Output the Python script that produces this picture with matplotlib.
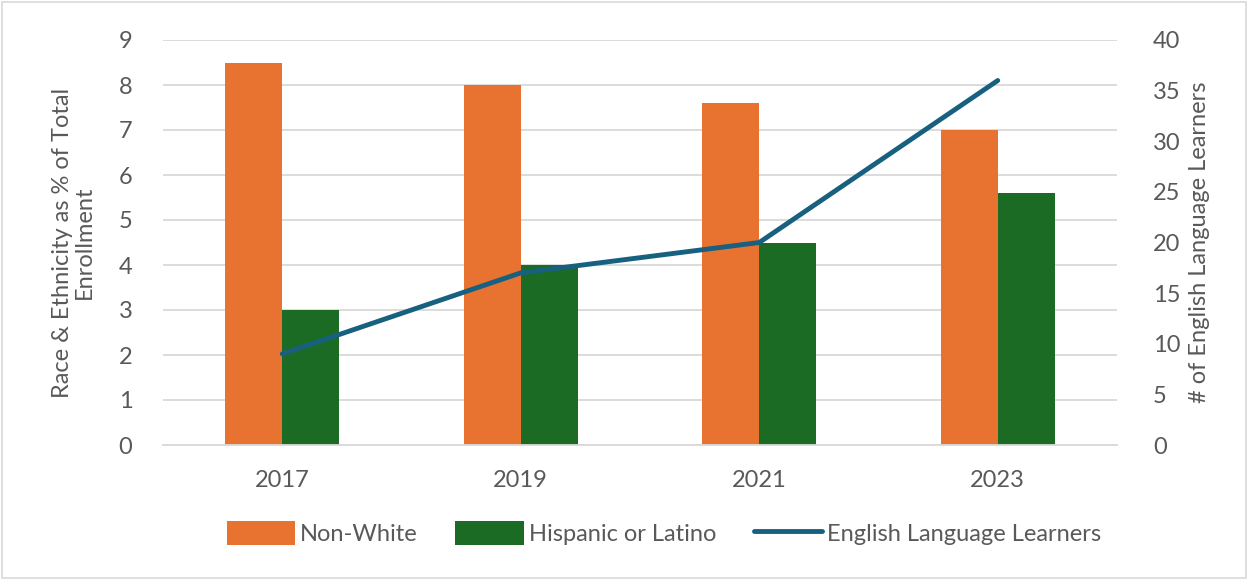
import matplotlib
matplotlib.use("Agg")
import matplotlib.pyplot as plt
import numpy as np
from matplotlib.patches import Rectangle

years = ["2017", "2019", "2021", "2023"]
non_white = [8.5, 8.0, 7.6, 7.0]
hispanic = [3.0, 4.0, 4.5, 5.6]
ell = [9, 17, 20, 36]

orange = "#E8722F"
green = "#1B6B24"
blue = "#17607F"
txt = "#595959"
grid = "#D9D9D9"
fs = 17

plt.rcParams['font.family'] = ['Lato', 'DejaVu Sans']

fig = plt.figure(figsize=(12.48, 5.8), dpi=100)
ax = fig.add_axes([163/1248, 1-445/580, (1117-163)/1248, (445-40)/580])
x = np.arange(len(years))
w = 0.24
ax.bar(x - w/2, non_white, w, color=orange, label="Non-White", zorder=2)
ax.bar(x + w/2, hispanic, w, color=green, label="Hispanic or Latino", zorder=2)
ax.set_ylim(0, 9)
ax.set_yticks(range(0, 10))
ax.set_xlim(-0.5, 3.5)
ax.set_xticks(x)
ax.set_xticklabels(years)
ax.yaxis.grid(True, color=grid, linewidth=1.3, zorder=0)
ax.set_axisbelow(True)
for s in ax.spines.values():
    s.set_visible(False)
ax.spines['bottom'].set_visible(True)
ax.spines['bottom'].set_color(grid)
ax.spines['bottom'].set_linewidth(1.3)
ax.tick_params(axis='both', length=0, labelsize=fs, colors=txt)
ax.tick_params(axis='x', pad=18)
ax.tick_params(axis='y', pad=22)
ax.set_ylabel("Race & Ethnicity as % of Total\nEnrollment", fontsize=fs, color=txt, labelpad=17, linespacing=1.05)

ax2 = ax.twinx()
ax2.plot(x, ell, color=blue, linewidth=3.5, solid_capstyle='round', label="English Language Learners", zorder=3)
ax2.set_ylim(0, 40)
ax2.set_yticks(range(0, 45, 5))
for s in ax2.spines.values():
    s.set_visible(False)
ax2.tick_params(axis='y', length=0, labelsize=fs, colors=txt, pad=26)
ax2.set_ylabel("# of English Language Learners", fontsize=fs, color=txt, labelpad=6)

h1, l1 = ax.get_legend_handles_labels()
h2, l2 = ax2.get_legend_handles_labels()
fig.legend(h1 + h2, l1 + l2, loc='center', bbox_to_anchor=(0.532, 1-533/580), ncol=3,
           frameon=False, fontsize=fs, labelcolor=txt, handlelength=2.9, handleheight=1.2,
           handletextpad=0.2, columnspacing=1.6)

fig.patches.append(Rectangle((0.002, 0.003), 0.996, 0.994, transform=fig.transFigure,
                             fill=False, edgecolor=grid, linewidth=1.2))
fig.savefig("out.png", dpi=100)
